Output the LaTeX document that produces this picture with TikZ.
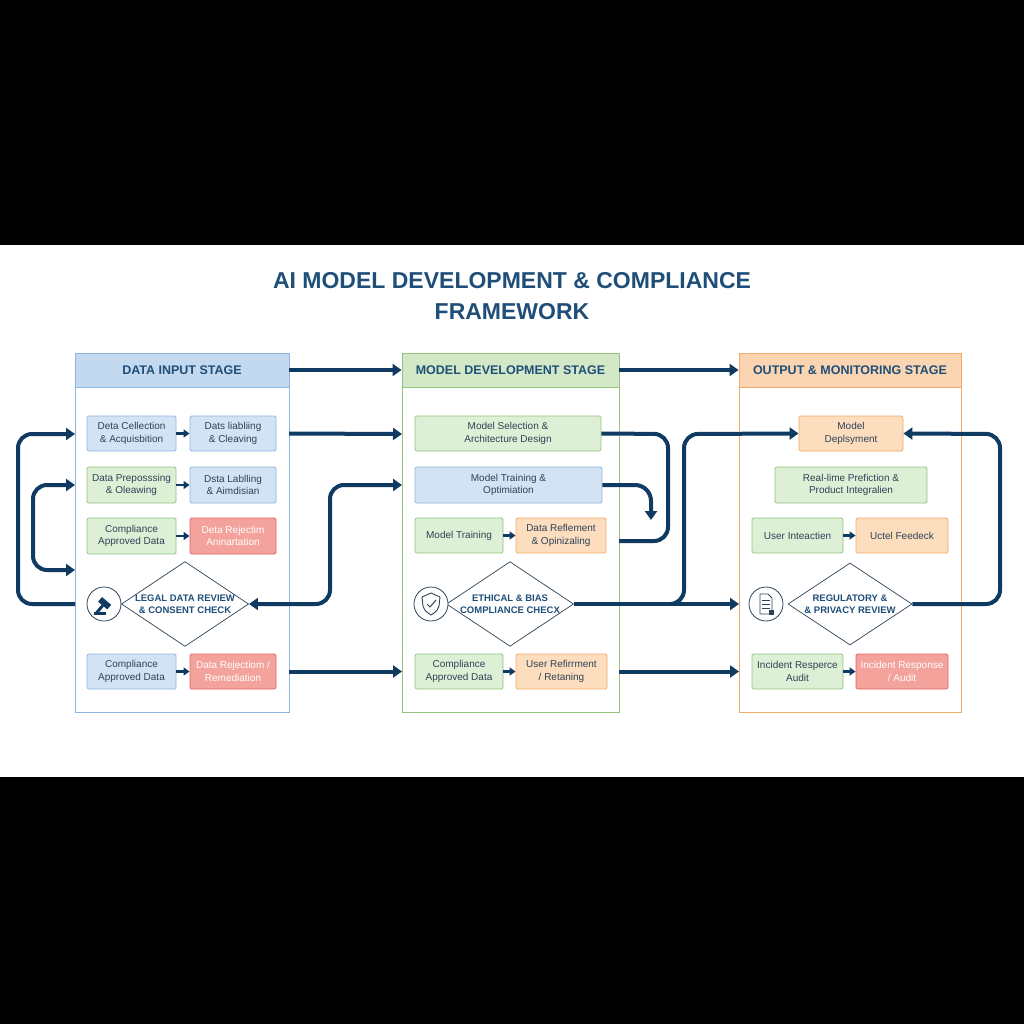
\documentclass[tikz,border=0pt]{standalone}
\usepackage{fontspec}
\setmainfont{Liberation Sans}
\usetikzlibrary{arrows.meta,shapes.geometric}
\definecolor{navy}{HTML}{0F3A62}
\definecolor{ttl}{HTML}{1F4E79}
\definecolor{txt}{HTML}{2E4257}
\definecolor{bF}{HTML}{D3E3F4}\definecolor{bD}{HTML}{8FB6E0}
\definecolor{gF}{HTML}{DDEFD5}\definecolor{gD}{HTML}{93C47D}
\definecolor{oF}{HTML}{FCDDBE}\definecolor{oD}{HTML}{F2AA6B}
\definecolor{rF}{HTML}{F3A29C}\definecolor{rD}{HTML}{E06666}
\definecolor{hb}{HTML}{C3D9EF}\definecolor{hg}{HTML}{D2E8C6}\definecolor{ho}{HTML}{FBD5B1}
\tikzset{
 box/.style={draw, line width=0.9pt, rounded corners=1.5pt, inner sep=0pt, align=center, font=\fontsize{10}{12.5}\selectfont, text=txt},
 bb/.style={box, fill=bF, draw=bD}, gb/.style={box, fill=gF, draw=gD},
 ob/.style={box, fill=oF, draw=oD}, rb/.style={box, fill=rF, draw=rD, text=white},
 dia/.style={diamond, draw=txt, line width=0.7pt, fill=white, aspect=1.5, minimum width=124pt, minimum height=82pt, inner sep=0pt, align=center, font=\bfseries\fontsize{9.5}{11.5}\selectfont, text=ttl},
 ic/.style={circle, draw=txt, line width=0.8pt, fill=white, minimum size=34pt, inner sep=0pt},
 fl/.style={draw=navy, line width=4pt, rounded corners=14pt, -{Triangle[length=9pt,width=12pt]}},
 fln/.style={draw=navy, line width=4pt, rounded corners=14pt},
 sa/.style={draw=navy, line width=2.5pt, -{Triangle[length=6pt,width=8pt]}},
 hdr/.style={draw, line width=0.9pt, inner sep=0pt, font=\bfseries\fontsize{12.5}{14}\selectfont, text=ttl}
}
\newcommand{\bx}[6]{\node[#1, minimum width=#4-#2, minimum height=#5-#3] (#6) at ({(#2+#4)/2},{(#3+#5)/2})}
\begin{document}
\begin{tikzpicture}[x=1pt,y=-1pt]
\useasboundingbox (0,0) rectangle (1024,1024);
\fill[black] (0,0) rectangle (1024,1024);
\fill[white] (0,245) rectangle (1024,777);
\node[font=\bfseries\fontsize{23}{31}\selectfont, text=ttl, align=center] (title) at (512,296) {AI MODEL DEVELOPMENT \& COMPLIANCE\\FRAMEWORK};
% panels
\draw[draw=bD, line width=1pt] (75,353) rectangle (289,712);
\draw[draw=gD, line width=1pt] (402,353) rectangle (619,712);
\draw[draw=oD, line width=1pt] (739,353) rectangle (961,712);
\bx{hdr,fill=hb,draw=bD}{75}{353}{289}{387}{h1} {DATA INPUT STAGE};
\bx{hdr,fill=hg,draw=gD}{402}{353}{619}{387}{h2} {MODEL DEVELOPMENT STAGE};
\bx{hdr,fill=ho,draw=oD}{739}{353}{961}{387}{h3} {OUTPUT \& MONITORING STAGE};
% panel 1
\bx{bb}{87}{416}{176}{451}{a1} {Deta Cellection\\\& Acquisbition};
\bx{bb}{190}{416}{276}{451}{a2} {Dats liabliing\\\& Cleaving};
\bx{gb}{87}{467}{176}{503}{a3} {Data Preposssing\\\& Oleawing};
\bx{bb}{190}{467}{276}{503}{a4} {Dsta Lablling\\\& Aimdisian};
\bx{gb}{87}{518}{176}{554}{a5} {Compliance\\Approved Data};
\bx{rb}{190}{518}{276}{554}{a6} {Deta Rejectim\\Aninartation};
\node[dia] (d1) at (185,604) {LEGAL DATA REVIEW\\\& CONSENT CHECK};
\node[ic] (i1) at (104,604) {};
\bx{bb}{87}{654}{176}{689}{a7} {Compliance\\Approved Data};
\bx{rb}{190}{654}{276}{689}{a8} {Data Rejectiom /\\Remediation};
% gavel icon
\begin{scope}[shift={(104,604)}, navy]
\fill[rotate=-40] (-6,-4) rectangle (6,2);
\fill[rotate=-40] (-1.5,2) rectangle (1.5,13);
\fill (-10,8) rectangle (2,11);
\end{scope}
% panel 2
\bx{gb}{415}{416}{601}{451}{b1} {Model Selection \&\\Architecture Design};
\bx{bb}{415}{467}{602}{503}{b2} {Model Training \&\\Optimiation};
\bx{gb}{415}{518}{503}{553}{b3} {Model Training};
\bx{ob}{516}{518}{606}{553}{b4} {Data Reflement\\\& Opinizaling};
\node[dia] (d2) at (510,604) {ETHICAL \& BIAS\\COMPLIANCE CHECX};
\node[ic] (i2) at (431,604) {};
\draw[txt, line width=0.9pt, line join=round] (431,593) -- (440,597) -- (439,606) .. controls (437,611) .. (431,615) .. controls (425,611) .. (423,606) -- (422,597) -- cycle;
\draw[txt, line width=1pt] (427,604) -- (430,607) -- (436,600);
\bx{gb}{415}{654}{503}{689}{b5} {Compliance\\Approved Data};
\bx{ob}{516}{654}{607}{689}{b6} {User Refirrment\\/ Retaning};
% panel 3
\bx{ob}{799}{416}{903}{451}{c1} {Model\\Deplsyment};
\bx{gb}{775}{467}{927}{503}{c2} {Real-lime Prefiction \&\\Product Integralien};
\bx{gb}{752}{518}{843}{553}{c3} {User Inteactien};
\bx{ob}{856}{518}{948}{553}{c4} {Uctel Feedeck};
\node[dia] (d3) at (850,604) {REGULATORY \&\\\& PRIVACY REVIEW};
\node[ic] (i3) at (766,604) {};
\draw[txt, line width=0.8pt] (760,594) -- (768,594) -- (772,598) -- (772,614) -- (760,614) -- cycle;
\foreach \yy in {600,604,608} \draw[txt, line width=0.7pt] (762,\yy) -- (770,\yy);
\fill[txt] (769,610) rectangle (774,615);
\bx{gb}{752}{654}{843}{689}{c5} {Incident Resperce\\Audit};
\bx{rb}{856}{654}{948}{689}{c6} {Incident Response\\/ Audit};
% small arrows
\foreach \p/\q in {a1/a2,a3/a4,a5/a6,a7/a8,b3/b4,b5/b6,c3/c4,c5/c6} \draw[sa] (\p) -- (\q);
% flows
\coordinate (p1) at (75,434); \coordinate (p2) at (402,434);
\draw[fl] (h1) -- (h2);
\draw[fl] (h2) -- (h3);
\draw[fl] (a2.east -| 289,0) -- (p2);
\draw[fl] (a8.east -| 289,0) -- (b5.west -| 402,0);
\draw[fl] (b6.east -| 619,0) -- (c5.west -| 739,0);
\draw[fl] (75,604) -- (18,604) -- (18,434) -- (p1);
\draw[fl, {Triangle[length=9pt,width=12pt]}-{Triangle[length=9pt,width=12pt]}] (75,485) -- (33,485) -- (33,570) -- (75,570);
\draw[fl, {Triangle[length=9pt,width=12pt]}-{Triangle[length=9pt,width=12pt]}] (d1.east) -- (330,604) -- (330,485) -- (402,485);
\draw[fln] (b1.east) -- (668,434) -- (668,541) -- (619,541);
\draw[fl, rounded corners=16pt] (b2.east) -- (651,485) -- (651,520);
\draw[fl] (d2.east) -- (739,604);
\draw[fl] (670,604) -- (684,604) -- (684,434) -- (c1.west);
\draw[fl] (d3.east) -- (1000,604) -- (1000,434) -- (c1.east);
\end{tikzpicture}
\end{document}
